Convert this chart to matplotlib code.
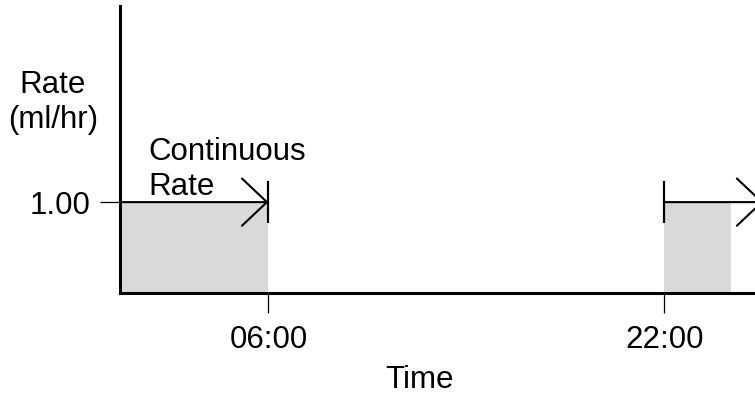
import matplotlib
matplotlib.use("Agg")
import matplotlib.pyplot as plt

plt.rcParams['font.family'] = ['Liberation Sans', 'DejaVu Sans']

# ---- data ----
seg_start = [0, 22]          # hours where the continuous rate starts
seg_fill_end = [6, 24.7]     # hours where the shaded area ends (visible part)
seg_arrow_end = [6, 26]      # hours where the rate arrow ends
rate = 1.00
xtick_vals = [6, 22]
xtick_labels = ["06:00", "22:00"]
ytick_vals = [1.00]
ytick_labels = ["1.00"]

W, H = 755, 394
fig = plt.figure(figsize=(W / 100, H / 100), dpi=100)
ax = fig.add_axes([120 / W, (H - 292.5) / H, 635 / W, 286.5 / H])
ax.set_xlim(0, 25.66)
ax.set_ylim(0, 3.17)

FS = 22.5
gray = '#d9d9d9'

for s, e in zip(seg_start, seg_fill_end):
    ax.fill_between([s, e], 0, rate, color=gray, lw=0, zorder=1)

for s, e in zip(seg_start, seg_arrow_end):
    ax.annotate('', xy=(e, rate), xytext=(s, rate),
                arrowprops=dict(arrowstyle='->,head_length=18,head_width=17',
                                mutation_scale=1, lw=1.5, color='black',
                                shrinkA=0, shrinkB=0),
                annotation_clip=False, zorder=3)

bar_half = 0.235
bar_x = [seg_arrow_end[0], seg_start[1]]
ax.vlines(bar_x, rate - bar_half, rate + bar_half, color='black', lw=1.6, zorder=3)

for side in ['top', 'right']:
    ax.spines[side].set_visible(False)
for side in ['left', 'bottom']:
    ax.spines[side].set_linewidth(2.2)
    ax.spines[side].set_zorder(4)

ax.set_xticks(xtick_vals, xtick_labels)
ax.set_yticks(ytick_vals, ytick_labels)
ax.tick_params(axis='both', direction='out', length=14.4, width=0.9,
               labelsize=FS, color='black')
ax.tick_params(axis='x', pad=9)
ax.tick_params(axis='y', pad=7.2)

fig.text(53 / W, (H - 128) / H, "Rate\n(ml/hr)", ha='center', va='baseline',
         multialignment='center', fontsize=FS)
fig.text(148 / W, (H - 195) / H, "Continuous\nRate", ha='left', va='baseline',
         multialignment='left', fontsize=FS)
fig.text(419 / W, (H - 388) / H, "Time", ha='center', va='baseline', fontsize=FS)

fig.savefig("out.png", dpi=100)
